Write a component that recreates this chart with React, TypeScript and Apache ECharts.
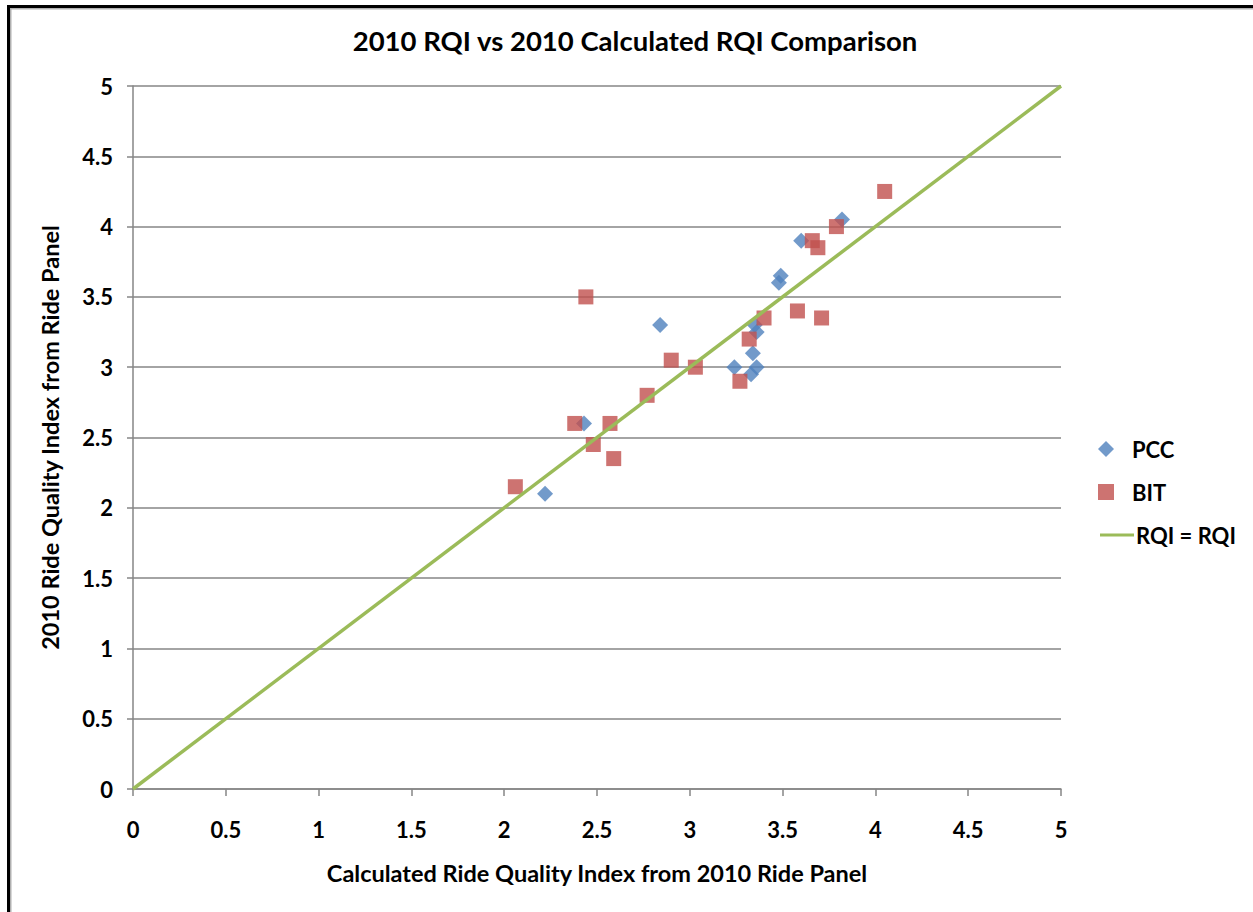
import React, { useEffect, useRef } from "react";
import * as echarts from "echarts";

const pccPoints: [number, number][] = [
  [2.22, 2.1], [2.43, 2.6], [2.84, 3.3], [3.24, 3.0], [3.33, 2.95], [3.36, 3.0],
  [3.34, 3.1], [3.36, 3.25], [3.35, 3.3], [3.48, 3.6], [3.49, 3.65], [3.6, 3.9],
  [3.82, 4.05],
];

const bitPoints: [number, number][] = [
  [2.06, 2.15], [2.38, 2.6], [2.44, 3.5], [2.48, 2.45], [2.57, 2.6], [2.59, 2.35],
  [2.77, 2.8], [2.9, 3.05], [3.03, 3.0], [3.27, 2.9], [3.32, 3.2], [3.4, 3.35],
  [3.58, 3.4], [3.66, 3.9], [3.69, 3.85], [3.71, 3.35], [3.79, 4.0], [4.05, 4.25],
];

const refLine: [number, number][] = [[0, 0], [5, 5]];

const seriesNames = ["PCC", "BIT", "RQI = RQI"];
const titleText = "2010 RQI vs 2010 Calculated RQI Comparison";
const xAxisTitle = "Calculated Ride Quality Index from 2010 Ride Panel";
const yAxisTitle = "2010 Ride Quality Index from Ride Panel";

const FONT = "Lato, 'Open Sans', sans-serif";

export default function App() {
  const ref = useRef<HTMLDivElement>(null);
  useEffect(() => {
    if (!ref.current) return;
    const chart = echarts.init(ref.current, null, { renderer: "svg" });
    const axisGray = "#868686";
    const legendText = { fontFamily: FONT, fontSize: 22, fontWeight: "bold", color: "#000" };
    chart.setOption({
      animation: false,
      backgroundColor: "#ffffff",
      title: {
        text: titleText,
        left: 630,
        textAlign: "center",
        top: 21,
        textStyle: { fontFamily: FONT, fontSize: 27.5, fontWeight: "bold", color: "#000" },
      },
      legend: [
        {
          orient: "vertical",
          left: 1093,
          top: 433,
          itemGap: 21,
          itemWidth: 16,
          itemHeight: 16,
          textStyle: { ...legendText, padding: [0, 0, 0, 13] },
          data: [
            { name: seriesNames[0], icon: "diamond" },
            { name: seriesNames[1], icon: "rect" },
          ],
        },
        {
          orient: "vertical",
          left: 1095,
          top: 519,
          itemWidth: 34,
          itemHeight: 3,
          textStyle: { ...legendText, padding: [0, 0, 0, -3] },
          data: [{ name: seriesNames[2], icon: "rect" }],
        },
      ],
      grid: { left: 133, right: 1253 - 1061, top: 86, bottom: 912 - 789, containLabel: false },
      xAxis: {
        type: "value",
        min: 0,
        max: 5,
        interval: 0.5,
        name: xAxisTitle,
        nameLocation: "middle",
        nameGap: 72,
        nameTextStyle: { fontFamily: FONT, fontSize: 23.5, fontWeight: "bold", color: "#000" },
        axisLine: { show: true, lineStyle: { color: axisGray, width: 1.5 } },
        axisTick: { show: true, inside: false, length: 7, lineStyle: { color: axisGray, width: 1.5 } },
        axisLabel: { margin: 29, fontFamily: FONT, fontSize: 22, fontWeight: "bold", color: "#000" },
        splitLine: { show: false },
      },
      yAxis: {
        type: "value",
        min: 0,
        max: 5,
        interval: 0.5,
        name: yAxisTitle,
        nameLocation: "middle",
        nameGap: 71,
        nameRotate: 90,
        nameTextStyle: { fontFamily: FONT, fontSize: 23.5, fontWeight: "bold", color: "#000" },
        axisLine: { show: true, lineStyle: { color: axisGray, width: 1.5 } },
        axisTick: { show: true, inside: false, length: 6, lineStyle: { color: axisGray, width: 1.5 } },
        axisLabel: { margin: 20, fontFamily: FONT, fontSize: 22, fontWeight: "bold", color: "#000" },
        splitLine: { show: true, lineStyle: { color: axisGray, width: 1.5 } },
      },
      series: [
        {
          name: seriesNames[0],
          type: "scatter",
          symbol: "diamond",
          symbolSize: 16,
          itemStyle: { color: "#4F81BD" },
          data: pccPoints,
          z: 3,
        },
        {
          name: seriesNames[1],
          type: "scatter",
          symbol: "rect",
          symbolSize: 15,
          itemStyle: { color: "#C0504D" },
          data: bitPoints,
          z: 4,
        },
        {
          name: seriesNames[2],
          type: "line",
          symbol: "none",
          showSymbol: false,
          lineStyle: { color: "#9BBB59", width: 3.5 },
          itemStyle: { color: "#9BBB59" },
          data: refLine,
          z: 5,
        },
      ],
      graphic: [
        { type: "rect", shape: { x: 7, y: 5, width: 1246, height: 3 }, style: { fill: "#000" }, silent: true },
        { type: "rect", shape: { x: 7, y: 5, width: 3, height: 907 }, style: { fill: "#000" }, silent: true },
        { type: "rect", shape: { x: 10, y: 8, width: 1243, height: 1.5 }, style: { fill: "#b0b0b0" }, silent: true },
        { type: "rect", shape: { x: 10, y: 8, width: 1.5, height: 904 }, style: { fill: "#b0b0b0" }, silent: true },
      ],
    });
    return () => chart.dispose();
  }, []);
  return (
    <div
      ref={ref}
      style={{ position: "fixed", left: 0, top: 0, width: 1253, height: 912 }}
    />
  );
}
